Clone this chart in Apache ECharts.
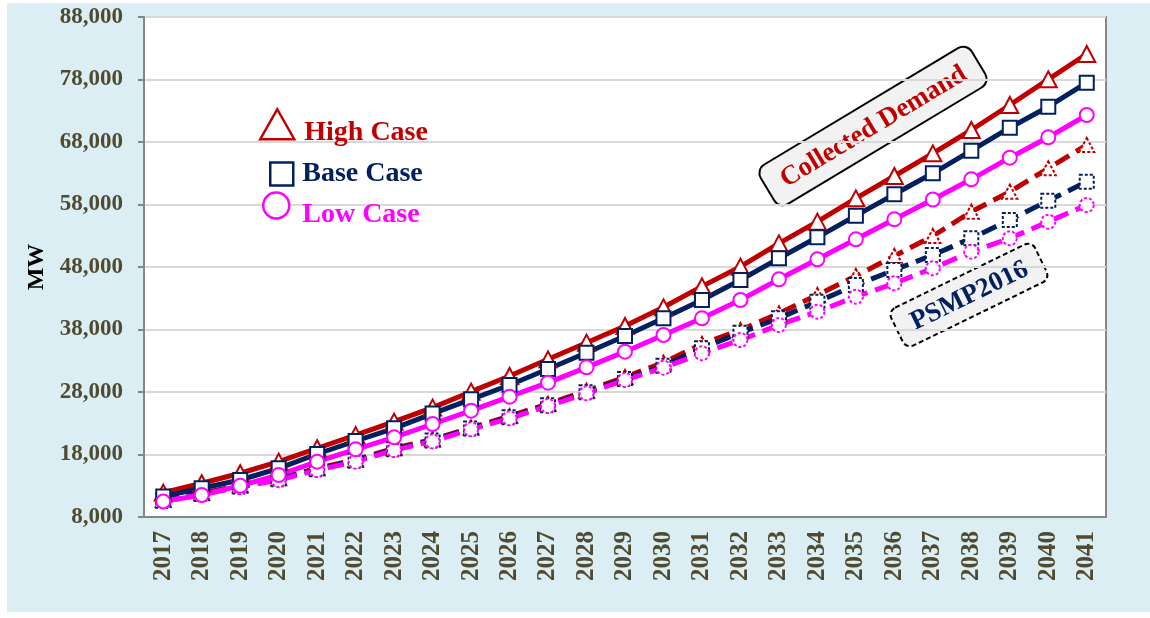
<!DOCTYPE html>
<html>
<head>
<meta charset="utf-8">
<script src="https://cdn.jsdelivr.net/npm/echarts@6/dist/echarts.min.js"></script>
<style>
  html, body { margin: 0; padding: 0; background: #fff; }
  #chart { position: absolute; left: 7px; top: 3px; width: 1143px; height: 609px; }
</style>
</head>
<body>
<div id="chart"></div>
<script>
  // peak demand forecast, MW
  const years = ['2017', '2018', '2019', '2020', '2021', '2022', '2023', '2024', '2025', '2026', '2027', '2028', '2029',
    '2030', '2031', '2032', '2033', '2034', '2035', '2036', '2037', '2038', '2039', '2040', '2041']

  // collected demand (solid lines)
  const highCase = [11900, 13400, 15000, 16850, 19000, 21100, 23250, 25500, 28050, 30560, 33230, 35890, 38560,
    41550, 44900, 48050, 51790, 55250, 58990, 62560, 66190, 69920, 73920, 78030, 82080]
  const baseCase = [11300, 12600, 13920, 15790, 18080, 20160, 22190, 24550, 26830, 29120, 31680, 34290, 36960,
    39790, 42720, 45920, 49390, 52750, 56210, 59630, 62990, 66610, 70290, 73650, 77490]
  const lowCase = [10500, 11520, 13010, 14720, 16850, 18830, 20750, 22880, 25010, 27250, 29490, 31950, 34450,
    37120, 39790, 42720, 46030, 49230, 52430, 55630, 58800, 62030, 65490, 68750, 72320]

  // PSMP2016 (dashed lines)
  const psmpHigh = [10700, 11800, 13050, 14200, 15800, 17150, 19000, 20400, 22300, 24150, 26100, 28200, 30400,
    32700, 35700, 37920, 40590, 43520, 46560, 49760, 52960, 56850, 60050, 63790, 67520]
  const psmpBase = [10600, 11700, 12900, 14050, 15650, 17000, 18850, 20250, 22150, 23950, 25900, 27950, 30100,
    32200, 35000, 37490, 39790, 42450, 45120, 47520, 49920, 52590, 55520, 58610, 61650]
  const psmpLow = [10500, 11600, 12800, 13900, 15500, 16850, 18700, 20100, 22030, 23790, 25760, 27790, 29920,
    31890, 34190, 36320, 38720, 40850, 43250, 45390, 47790, 50450, 52590, 55250, 57920]

  // y axis ticks
  const yMin = 8000
  const yMax = 88000
  const yStep = 10000

  const RED = '#c00000'
  const NAVY = '#002060'
  const PINK = '#ff00ff'
  const LABEL = '#4f4a30'
  const SERIF = '"Liberation Serif", "Times New Roman", serif'

  function solid(name, data, color, symbol, size) {
    return {
      name: name,
      type: 'line',
      data: data,
      color: color,
      symbol: symbol,
      symbolSize: size,
      showAllSymbol: true,
      lineStyle: { color: color, width: 5 },
      itemStyle: { color: '#fff', borderColor: color, borderWidth: 2 },
      emphasis: { disabled: true }
    }
  }

  function dashed(name, data, color, symbol, size) {
    return {
      name: name,
      type: 'line',
      data: data,
      color: color,
      symbol: symbol,
      symbolSize: size,
      showAllSymbol: true,
      lineStyle: { color: color, width: 5, type: [16, 8] },
      itemStyle: { color: '#fff', borderColor: color, borderWidth: 2, borderType: [3, 2] },
      emphasis: { disabled: true }
    }
  }

  // one legend per case so each icon/text can sit where the original has it;
  // drop = height of an invisible spacer line that pushes the text down
  function legendFor(name, icon, color, left, top, w, h, padLeft, drop) {
    return {
      data: [{ name: name, icon: icon }],
      left: left,
      top: top,
      padding: 0,
      itemWidth: w,
      itemHeight: h,
      selectedMode: false,
      formatter: drop ? '{s| }\n{name}' : '{name}',
      itemStyle: { color: '#fff', borderColor: color, borderWidth: 2.5 },
      textStyle: {
        color: color, fontFamily: SERIF, fontWeight: 'bold', fontSize: 28, padding: [0, 0, 0, padLeft],
        rich: { s: { fontSize: 1, lineHeight: drop || 1 } }
      }
    }
  }

  const chart = echarts.init(document.getElementById('chart'))
  chart.setOption({
    animation: false,
    backgroundColor: '#daeef3',
    grid: {
      left: 137,
      top: 14,
      right: 44,
      bottom: 95,
      show: true,
      backgroundColor: '#fff',
      borderColor: '#868686',
      borderWidth: 2
    },
    legend: [
      legendFor('High Case', 'triangle', RED, 252, 105, 34, 30, 5, 17),
      legendFor('Base Case', 'rect', NAVY, 262, 157, 23, 23, 4, 0),
      legendFor('Low Case', 'circle', PINK, 255, 188, 26, 26, 8, 18)
    ],
    xAxis: {
      type: 'category',
      data: years,
      boundaryGap: true,
      axisLine: { lineStyle: { color: '#868686', width: 2 } },
      axisTick: { show: false },
      axisLabel: {
        rotate: 90,
        interval: 0,
        margin: 14,
        color: LABEL,
        fontFamily: SERIF,
        fontWeight: 'bold',
        fontSize: 25
      }
    },
    yAxis: {
      type: 'value',
      min: yMin,
      max: yMax,
      interval: yStep,
      name: 'MW',
      nameLocation: 'middle',
      nameGap: 95,
      nameTextStyle: { color: '#000', fontFamily: SERIF, fontWeight: 'bold', fontSize: 24 },
      axisLine: { show: true, lineStyle: { color: '#868686', width: 2 } },
      axisTick: { show: true, length: 6, lineStyle: { color: '#868686', width: 2 } },
      splitLine: { lineStyle: { color: '#d9d9d9', width: 2 } },
      axisLabel: {
        margin: 21,
        color: LABEL,
        fontFamily: SERIF,
        fontWeight: 'bold',
        fontSize: 23,
        formatter: v => v.toLocaleString('en-US')
      }
    },
    graphic: [
      {
        type: 'group',
        x: 866,
        y: 123,
        rotation: 31 * Math.PI / 180,
        children: [
          {
            type: 'rect',
            shape: { x: -123, y: -23, width: 246, height: 46, r: 10 },
            style: { fill: '#f2f2f2', stroke: '#000', lineWidth: 2 }
          },
          {
            type: 'text',
            style: {
              text: 'Collected Demand', x: 0, y: 1, align: 'center', verticalAlign: 'middle',
              fill: RED, font: 'bold 27px ' + SERIF
            }
          }
        ]
      },
      {
        type: 'group',
        x: 962,
        y: 292,
        rotation: 26 * Math.PI / 180,
        children: [
          {
            type: 'rect',
            shape: { x: -80, y: -21, width: 160, height: 42, r: 8 },
            style: { fill: '#f2f2f2', stroke: '#000', lineWidth: 2, lineDash: [5, 3] }
          },
          {
            type: 'text',
            style: {
              text: 'PSMP2016', x: 0, y: 1, align: 'center', verticalAlign: 'middle',
              fill: NAVY, font: 'bold 27px ' + SERIF
            }
          }
        ]
      }
    ],
    series: [
      dashed('PSMP2016 High', psmpHigh, RED, 'triangle', [15, 14]),
      dashed('PSMP2016 Base', psmpBase, NAVY, 'rect', 14),
      dashed('PSMP2016 Low', psmpLow, PINK, 'circle', 14),
      solid('High Case', highCase, RED, 'triangle', [17, 16]),
      solid('Base Case', baseCase, NAVY, 'rect', 14),
      solid('Low Case', lowCase, PINK, 'circle', 14)
    ]
  })
</script>
</body>
</html>
